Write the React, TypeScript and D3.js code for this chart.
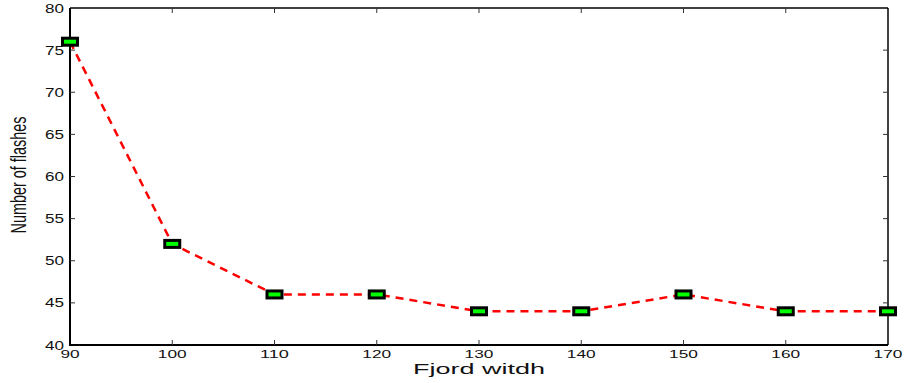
import React from "react";
import * as d3 from "d3";

const widths = [90, 100, 110, 120, 130, 140, 150, 160, 170];
const flashes = [76, 52, 46, 46, 44, 44, 46, 44, 44];
const xTicks = [90, 100, 110, 120, 130, 140, 150, 160, 170];
const yTicks = [40, 45, 50, 55, 60, 65, 70, 75, 80];

const W = 904, H = 383;
const L = 70, R = 888, T = 8, B = 345;

export default function App() {
  const x = d3.scaleLinear().domain([90, 170]).range([L, R]);
  const y = d3.scaleLinear().domain([40, 80]).range([B, T]);
  const line = d3.line<number>().x((_, i) => x(widths[i])).y((d) => y(d));
  const font = "'Liberation Sans', Arial, Helvetica, sans-serif";
  return (
    <svg width={W} height={H} style={{ position: "absolute", left: 0, top: 0, background: "#fff" }}>
      {/* box */}
      <line x1={L} x2={R} y1={T} y2={T} stroke="#000" strokeWidth={1.3} />
      <line x1={R} x2={R} y1={T} y2={B} stroke="#000" strokeWidth={1.5} />
      <line x1={L} x2={L} y1={T} y2={B + 1} stroke="#000" strokeWidth={2} />
      <line x1={L - 1} x2={R} y1={B} y2={B} stroke="#000" strokeWidth={2} />
      {/* y ticks */}
      {yTicks.map((t) => (
        <g key={"y" + t}>
          {t !== 40 && t !== 80 && (
            <>
              <line x1={L} x2={L + 5} y1={y(t)} y2={y(t)} stroke="#333" strokeWidth={1} />
              <line x1={R - 5} x2={R} y1={y(t)} y2={y(t)} stroke="#333" strokeWidth={1} />
            </>
          )}
          <text
            x={64}
            y={y(t) + 4.5}
            textAnchor="end"
            fontFamily={font}
            fontSize={12}
            fill="#111"
            textLength={19}
            lengthAdjust="spacingAndGlyphs"
          >
            {t}
          </text>
        </g>
      ))}
      {/* x ticks */}
      {xTicks.map((t) => (
        <g key={"x" + t}>
          {t !== 90 && t !== 170 && (
            <>
              <line x1={x(t)} x2={x(t)} y1={B} y2={B - 5} stroke="#333" strokeWidth={1} />
              <line x1={x(t)} x2={x(t)} y1={T} y2={T + 5} stroke="#333" strokeWidth={1} />
            </>
          )}
          <text
            x={x(t)}
            y={357.5}
            textAnchor="middle"
            fontFamily={font}
            fontSize={11.5}
            fill="#111"
            textLength={String(t).length * 9.6}
            lengthAdjust="spacingAndGlyphs"
          >
            {t}
          </text>
        </g>
      ))}
      {/* labels */}
      <text
        x={(413 + 545) / 2}
        y={374}
        textAnchor="middle"
        fontFamily={font}
        fontSize={14.5}
        fill="#111"
        textLength={132}
        lengthAdjust="spacingAndGlyphs"
      >
        Fjord witdh
      </text>
      <g transform="translate(26,175) scale(1.35,1) rotate(-90)">
        <text
          x={0}
          y={0}
          textAnchor="middle"
          fontFamily={font}
          fontSize={16}
          fill="#111"
          textLength={117}
          lengthAdjust="spacingAndGlyphs"
        >
          Number of flashes
        </text>
      </g>
      {/* data line */}
      <path d={line(flashes) || ""} fill="none" stroke="#ff0000" strokeWidth={2.5} strokeDasharray="8,6" />
      {flashes.map((v, i) => (
        <rect
          key={"m" + i}
          x={x(widths[i]) - 7.5}
          y={y(v) - 3.5}
          width={15}
          height={7}
          fill="#00ff00"
          stroke="#000"
          strokeWidth={3}
        />
      ))}
    </svg>
  );
}
